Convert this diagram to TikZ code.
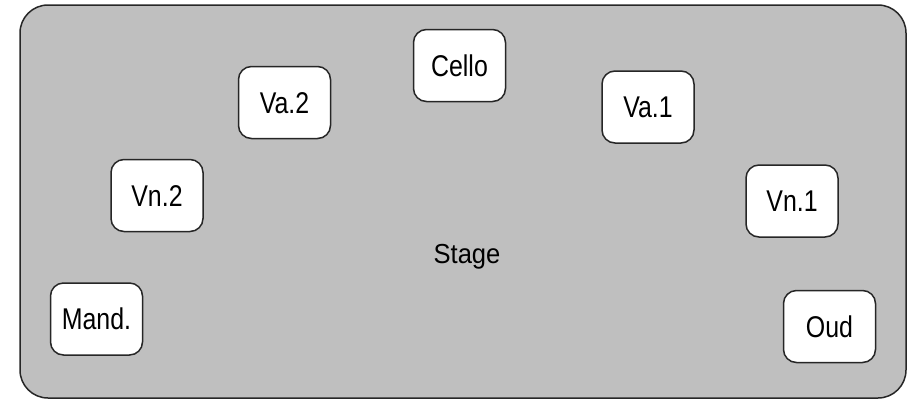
\documentclass[tikz,border=0pt]{standalone}
\usepackage{fontspec}
\setmainfont{Liberation Sans}
\newfontfamily\boxfont[FakeStretch=0.83]{Liberation Sans}
\newfontfamily\stagefont[FakeStretch=0.93]{Liberation Sans}
\begin{document}
\begin{tikzpicture}[x=1pt,y=-1pt,
  stagebox/.style={draw=black!85,line width=1.5pt,fill=black!25,rounded corners=28pt},
  player/.style={draw=black!85,line width=1.5pt,fill=white,rounded corners=13pt,
    minimum width=92pt,minimum height=72pt,inner sep=0pt,
    text height=21.5pt,text depth=0pt,font=\boxfont\fontsize{30}{34}\selectfont},
  lbl/.style={font=\stagefont\fontsize{27.5}{32}\selectfont,inner sep=0pt}]
\useasboundingbox (0,0) rectangle (911,400);
\draw[stagebox] (20,5) rectangle (906,398);
\node[lbl,anchor=base] (stage) at (467,263.5) {Stage};
\node[player] (cello) at (459.5,65.5) {Cello};
\node[player] (va2) at (284.5,102.5) {Va.2};
\node[player] (va1) at (648,107) {Va.1};
\node[player] (vn2) at (157,195.5) {Vn.2};
\node[player] (vn1) at (792,201) {Vn.1};
\node[player] (mand) at (96.5,319) {Mand.};
\node[player] (oud) at (829.5,326.5) {Oud};
\end{tikzpicture}
\end{document}
